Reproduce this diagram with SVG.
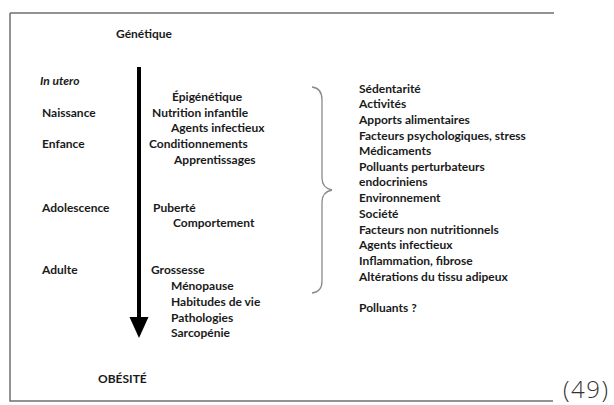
<svg xmlns="http://www.w3.org/2000/svg" width="614" height="405" viewBox="0 0 614 405">
<style>
text{font-family:Lato,"Open Sans","Liberation Sans",sans-serif;font-weight:bold;font-size:12px;fill:#1a1a1a}
.it{font-style:italic}
.frame{stroke:#6f6f6f;stroke-width:1.5;fill:none}
.brace{stroke:#8a8a8a;stroke-width:1.3;fill:none}
.ref{font-family:"Open Sans","Noto Sans",sans-serif;font-weight:300;font-size:24px;letter-spacing:1.5px;fill:#333}
</style>
<rect width="614" height="405" fill="#fff"/>
<g id="frame">
<path class="frame" d="M10,13 H554 M10,13 V401 H553"/>
</g>
<g id="connectors">
<line x1="139" y1="67" x2="139" y2="320" stroke="#000" stroke-width="4"/>
<polygon points="129.5,317 148.5,317 139,338" fill="#000"/>
<path class="brace" d="M312,87 Q322,88 322,100 V178 Q322,188 332,190 Q322,192 322,202 V281 Q322,292 312,293"/>
</g>
<g id="genetique"><text x="116" y="38">Génétique</text></g>
<g id="stages">
<text class="it" x="40" y="85">In utero</text>
<text x="42" y="117">Naissance</text>
<text x="42" y="148">Enfance</text>
<text x="42" y="212">Adolescence</text>
<text x="42" y="274">Adulte</text>
</g>
<g id="factors">
<text x="172" y="101">Épigénétique</text>
<text x="152" y="117">Nutrition infantile</text>
<text x="171" y="132">Agents infectieux</text>
<text x="149" y="148">Conditionnements</text>
<text x="174" y="164">Apprentissages</text>
<text x="153" y="212">Puberté</text>
<text x="173" y="227">Comportement</text>
<text x="151" y="274">Grossesse</text>
<text x="171" y="290">Ménopause</text>
<text x="171" y="306">Habitudes de vie</text>
<text x="171" y="322">Pathologies</text>
<text x="171" y="337">Sarcopénie</text>
</g>
<g id="obesite"><text x="98" y="383">OBÉSITÉ</text></g>
<g id="environment">
<text x="359" y="93">Sédentarité</text>
<text x="359" y="108">Activités</text>
<text x="359" y="124">Apports alimentaires</text>
<text x="359" y="140">Facteurs psychologiques, stress</text>
<text x="359" y="155">Médicaments</text>
<text x="359" y="171">Polluants perturbateurs</text>
<text x="359" y="186">endocriniens</text>
<text x="359" y="202">Environnement</text>
<text x="359" y="218">Société</text>
<text x="359" y="234">Facteurs non nutritionnels</text>
<text x="359" y="249">Agents infectieux</text>
<text x="359" y="265">Inflammation, fibrose</text>
<text x="359" y="281">Altérations du tissu adipeux</text>
<text x="359" y="312">Polluants ?</text>
</g>
<g id="reference"><text class="ref" x="563" y="398">(49)</text></g>
</svg>
